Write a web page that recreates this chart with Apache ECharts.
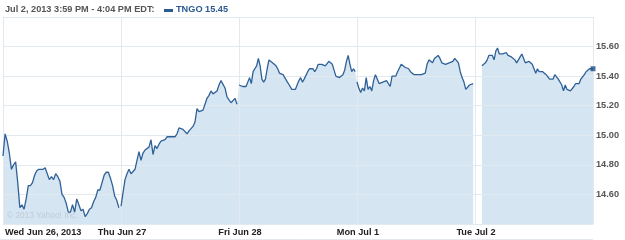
<!DOCTYPE html>
<html><head><meta charset="utf-8">
<script src="https://cdn.jsdelivr.net/npm/echarts@6/dist/echarts.min.js"></script>
<style>html,body{margin:0;padding:0;background:#fff}#c{width:625px;height:240px}</style>
</head><body><div id="c"></div>
<script>
const dayLabels = ['Wed Jun 26, 2013', 'Thu Jun 27', 'Fri Jun 28', 'Mon Jul 1', 'Tue Jul 2'];
const yTickLabels = ['14.60', '14.80', '15.00', '15.20', '15.40', '15.60'];
const titleText = 'Jul 2, 2013 3:59 PM - 4:04 PM EDT:';
const tickerName = 'TNGO';
const lastPrice = 15.45;
const watermark = '\u00a9 2013 Yahoo! Inc.';

const wed = [14.86, 15.01, 14.96, 14.88, 14.77, 14.80, 14.82, 14.68, 14.51, 14.53, 14.50, 14.57, 14.66, 14.66, 14.68, 14.73, 14.76, 14.77, 14.77, 14.77, 14.78, 14.74, 14.70, 14.72, 14.70, 14.74, 14.72, 14.69, 14.60, 14.58, 14.54, 14.48, 14.48, 14.53, 14.48, 14.57, 14.53, 14.49, 14.50, 14.45, 14.47, 14.50, 14.51, 14.55, 14.58, 14.63, 14.63, 14.68, 14.73, 14.75, 14.75, 14.71, 14.66, 14.59, 14.56, 14.51];
const thu = [14.52, 14.61, 14.70, 14.74, 14.77, 14.74, 14.74, 14.77, 14.83, 14.89, 14.83, 14.88, 14.90, 14.89, 14.92, 14.97, 14.87, 14.93, 14.91, 14.94, 14.96, 14.96, 14.97, 14.99, 14.99, 14.99, 14.98, 14.99, 15.01, 15.05, 15.06, 15.04, 15.04, 15.01, 15.03, 15.03, 15.06, 15.09, 15.18, 15.16, 15.15, 15.17, 15.21, 15.25, 15.27, 15.30, 15.28, 15.29, 15.30, 15.34, 15.37, 15.36, 15.32, 15.26, 15.25, 15.22, 15.23, 15.25, 15.21];
const fri = [15.34, 15.34, 15.33, 15.32, 15.33, 15.32, 15.39, 15.35, 15.43, 15.45, 15.47, 15.52, 15.47, 15.38, 15.36, 15.38, 15.45, 15.51, 15.51, 15.49, 15.48, 15.47, 15.45, 15.42, 15.42, 15.41, 15.40, 15.37, 15.35, 15.34, 15.31, 15.31, 15.31, 15.34, 15.37, 15.39, 15.36, 15.38, 15.39, 15.43, 15.45, 15.44, 15.45, 15.43, 15.45, 15.48, 15.49, 15.48, 15.49, 15.47, 15.48, 15.50, 15.49, 15.48, 15.47, 15.40, 15.39, 15.39, 15.40, 15.41, 15.44, 15.50, 15.54, 15.48, 15.43, 15.45, 15.43];
const mon = [15.36, 15.32, 15.29, 15.32, 15.30, 15.39, 15.31, 15.33, 15.30, 15.37, 15.41, 15.40, 15.35, 15.36, 15.36, 15.36, 15.37, 15.36, 15.33, 15.40, 15.41, 15.40, 15.43, 15.43, 15.48, 15.47, 15.46, 15.47, 15.45, 15.43, 15.42, 15.41, 15.41, 15.41, 15.40, 15.41, 15.41, 15.42, 15.48, 15.51, 15.52, 15.49, 15.52, 15.52, 15.54, 15.52, 15.49, 15.49, 15.48, 15.48, 15.49, 15.49, 15.50, 15.52, 15.51, 15.49, 15.43, 15.39, 15.36, 15.31, 15.30, 15.34, 15.35, 15.35];
const tue = [null, null, null, null, 15.47, 15.48, 15.49, 15.51, 15.54, 15.55, 15.54, 15.51, 15.57, 15.59, 15.55, 15.56, 15.55, 15.56, 15.56, 15.54, 15.54, 15.53, 15.52, 15.51, 15.49, 15.50, 15.53, 15.55, 15.52, 15.49, 15.50, 15.50, 15.49, 15.48, 15.45, 15.42, 15.45, 15.43, 15.42, 15.43, 15.42, 15.41, 15.40, 15.38, 15.38, 15.38, 15.41, 15.40, 15.38, 15.38, 15.34, 15.30, 15.34, 15.31, 15.30, 15.30, 15.31, 15.33, 15.35, 15.35, 15.35, 15.38, 15.39, 15.41, 15.43, 15.43, 15.45, 15.45, 15.45];

const days = [wed, thu, fri, mon, tue];
const dayPts = days.map((vals, d) => {
  const n = vals.length;
  const div = d === days.length - 1 ? n - 1 : n;
  return vals.map((v, i) => [d + i / div, v == null ? '-' : v]);
});
const areaData = [].concat(...dayPts);
const lineSeries = dayPts.map(pts => ({
  type: 'line',
  data: pts.filter(p => p[1] !== '-'),
  showSymbol: false,
  symbol: 'none',
  lineStyle: { color: '#2f6198', width: 1.3 },
  zlevel: 2, z: 5,
  silent: true,
  animation: false
}));
const lastPts = dayPts[dayPts.length - 1];
const lastPt = lastPts[lastPts.length - 1];

const gridColor = '#e2e9ef';
const font = 'Liberation Sans';
const chart = echarts.init(document.getElementById('c'), null, { renderer: 'canvas' });
chart.setOption({
  animation: false,
  grid: { left: 3, right: 32, top: 17, bottom: 16, containLabel: false },
  xAxis: {
    type: 'value', min: 0, max: days.length, interval: 1, zlevel: 1, z: 3,
    axisLine: { show: true, lineStyle: { color: gridColor } },
    axisTick: { show: false },
    splitLine: { show: true, lineStyle: { color: gridColor, width: 1 } },
    axisLabel: {
      formatter: v => dayLabels[v] || '',
      color: '#222', fontWeight: 'bold', fontSize: 9.2, fontFamily: font,
      margin: 4, alignMinLabel: 'left', showMaxLabel: false, padding: [0, 0, 0, 2]
    }
  },
  yAxis: {
    type: 'value', position: 'right', min: 14.4, max: 15.8, interval: 0.2, zlevel: 1, z: 3,
    axisLine: { show: true, lineStyle: { color: gridColor } },
    axisTick: { show: false },
    splitLine: { show: true, lineStyle: { color: gridColor, width: 1 } },
    axisLabel: {
      formatter: v => { const s = v.toFixed(2); return yTickLabels.includes(s) ? s : ''; },
      color: '#555', fontWeight: 'bold', fontSize: 9.2, fontFamily: font, margin: 3
    }
  },
  series: [
    {
      type: 'line', data: areaData, showSymbol: false, symbol: 'none',
      lineStyle: { width: 0 }, areaStyle: { color: '#d5e5f1', opacity: 1, origin: 'start' },
      zlevel: 0, z: 1, silent: true
    },
    ...lineSeries,
    {
      type: 'scatter', data: [lastPt], symbol: 'rect', symbolSize: 5,
      itemStyle: { color: '#1f4f88' }, zlevel: 2, z: 6, silent: true
    }
  ],
  graphic: [
    { type: 'text', left: 5, top: 5, style: { text: titleText, font: 'bold 9.2px ' + font, fill: '#555' } },
    { type: 'rect', shape: { x: 164, y: 9, width: 9, height: 3 }, style: { fill: '#2a5a92' } },
    { type: 'text', left: 176, top: 5, style: { text: tickerName + ' ' + lastPrice.toFixed(2), font: 'bold 9.2px ' + font, fill: '#2a5b93' } },
    { type: 'text', left: 7, top: 212, zlevel: 1, z: 10, style: { text: watermark, font: '8.3px ' + font, fill: '#c0ccd8' } },
    { type: 'line', shape: { x1: 0, y1: 239.5, x2: 593, y2: 239.5 }, style: { stroke: '#e2e8ee', lineWidth: 1 } }
  ]
});
</script>
</body></html>
